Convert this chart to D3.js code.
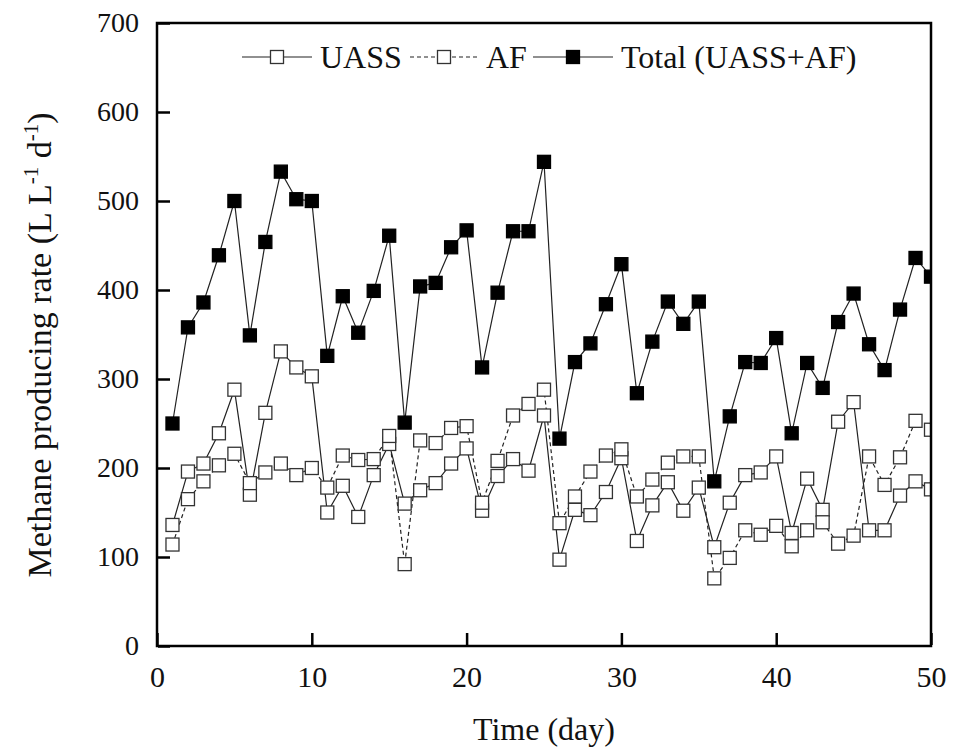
<!DOCTYPE html>
<html>
<head>
<meta charset="utf-8">
<script src="https://cdn.jsdelivr.net/npm/d3@7"></script>
<style>
  body { margin: 0; background: #fff; }
  text { font-family: "Liberation Serif", "Times New Roman", serif; fill: #111; }
</style>
</head>
<body>
<div id="chart"></div>
<script>
const days = d3.range(1, 51);
const uass = [136,196,205,239,288,170,262,331,313,303,150,180,145,192,227,160,175,183,205,222,
  152,191,210,197,259,97,153,147,173,211,118,158,184,152,178,111,161,192,195,213,
  127,188,153,252,274,130,130,169,185,176];
const af = [114,165,185,203,216,183,195,205,192,200,178,214,209,210,236,92,231,228,245,247,
  161,208,259,272,288,138,168,196,214,221,168,187,206,213,213,76,99,130,125,135,
  112,130,139,115,124,213,181,212,253,243];
const total = [250,358,386,439,500,349,454,533,502,500,326,393,352,399,461,251,404,408,448,467,
  313,397,466,466,544,233,319,340,384,429,284,342,387,362,387,185,258,319,318,346,
  239,318,290,364,396,339,310,378,436,415];
const xTicks = [0, 10, 20, 30, 40, 50];
const yTicks = [0, 100, 200, 300, 400, 500, 600, 700];

const W = 954, H = 751;
const margin = { top: 23, right: 23, bottom: 105, left: 157 };
const width = W - margin.left - margin.right;
const height = H - margin.top - margin.bottom;

const svg = d3.select("#chart").append("svg")
  .attr("width", W)
  .attr("height", H);

const g = svg.append("g")
  .attr("transform", `translate(${margin.left},${margin.top})`);

const x = d3.scaleLinear().domain([0, 50]).range([0, width]);
const y = d3.scaleLinear().domain([0, 700]).range([height, 0]);

svg.append("defs").append("clipPath").attr("id", "plotClip")
  .append("rect").attr("width", width).attr("height", height);

// series
const series = [
  { name: "UASS", values: uass, dash: null, fill: "#fff" },
  { name: "AF", values: af, dash: "4,3", fill: "#fff" },
  { name: "Total (UASS+AF)", values: total, dash: null, fill: "#000" }
];

const line = d3.line()
  .x((d, i) => x(days[i]))
  .y(d => y(d));

const plot = g.append("g").attr("clip-path", "url(#plotClip)");
const sq = 13;

series.forEach(s => {
  plot.append("path")
    .datum(s.values)
    .attr("fill", "none")
    .attr("stroke", "#222")
    .attr("stroke-width", 1.2)
    .attr("stroke-dasharray", s.dash)
    .attr("d", line);
});

series.forEach(s => {
  plot.selectAll(null)
    .data(s.values)
    .enter()
    .append("rect")
    .attr("x", (d, i) => x(days[i]) - sq / 2)
    .attr("y", d => y(d) - sq / 2)
    .attr("width", sq)
    .attr("height", sq)
    .attr("fill", s.fill)
    .attr("stroke", s.fill === "#000" ? "#000" : "#333")
    .attr("stroke-width", 1.3);
});

// axes
const xAxis = g.append("g")
  .attr("transform", `translate(0,${height})`)
  .call(d3.axisBottom(x).tickValues(xTicks).tickSizeInner(-13).tickSizeOuter(0));
const yAxis = g.append("g")
  .call(d3.axisLeft(y).tickValues(yTicks).tickSizeInner(-13).tickSizeOuter(0).tickPadding(18));

[xAxis, yAxis].forEach(a => {
  a.select(".domain").remove();
  a.selectAll(".tick line").attr("stroke", "#000").attr("stroke-width", 2.5);
});
xAxis.selectAll(".tick line").attr("y1", -1);
yAxis.selectAll(".tick line").attr("x1", 1);

xAxis.selectAll(".tick text")
  .attr("font-size", 30)
  .attr("fill", "#111")
  .attr("dy", "0.71em")
  .attr("y", 20);
yAxis.selectAll(".tick text")
  .attr("font-size", 28)
  .attr("fill", "#111");

// frame
g.append("rect")
  .attr("width", width)
  .attr("height", height)
  .attr("fill", "none")
  .attr("stroke", "#000")
  .attr("stroke-width", 2.5);

// axis titles
svg.append("text")
  .attr("x", margin.left + x(25))
  .attr("y", 740)
  .attr("text-anchor", "middle")
  .attr("font-size", 32)
  .text("Time (day)");

const yt = svg.append("text")
  .attr("transform", `translate(51,${345}) rotate(-90)`)
  .attr("text-anchor", "middle")
  .attr("font-size", 34);
yt.append("tspan").text("Methane producing rate (L L");
yt.append("tspan").attr("font-size", 21).attr("dy", -13).text("-1");
yt.append("tspan").attr("dy", 13).text(" d");
yt.append("tspan").attr("font-size", 21).attr("dy", -13).text("-1");
yt.append("tspan").attr("dy", 13).text(")");

// legend
const legendItems = [
  { s: series[0], x1: 242, x2: 312, tx: 320 },
  { s: series[1], x1: 410, x2: 478, tx: 486 },
  { s: series[2], x1: 533, x2: 613, tx: 621 }
];
const ly = 57;
const legend = svg.append("g");
legendItems.forEach(it => {
  legend.append("line")
    .attr("x1", it.x1).attr("x2", it.x2)
    .attr("y1", ly).attr("y2", ly)
    .attr("stroke", "#222")
    .attr("stroke-width", 1.2)
    .attr("stroke-dasharray", it.s.dash);
  legend.append("rect")
    .attr("x", (it.x1 + it.x2) / 2 - sq / 2)
    .attr("y", ly - sq / 2)
    .attr("width", sq).attr("height", sq)
    .attr("fill", it.s.fill)
    .attr("stroke", it.s.fill === "#000" ? "#000" : "#333")
    .attr("stroke-width", 1.3);
  legend.append("text")
    .attr("x", it.tx)
    .attr("y", ly + 11)
    .attr("font-size", 32)
    .text(it.s.name);
});
</script>
</body>
</html>
